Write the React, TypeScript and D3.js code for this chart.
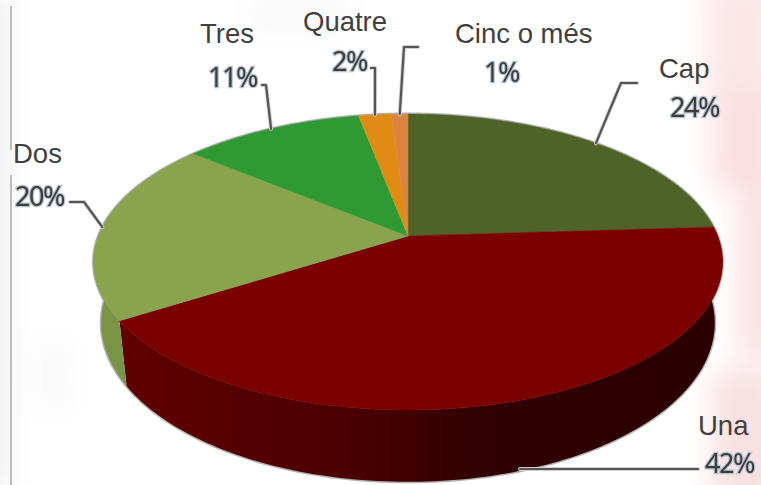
import React from 'react'
import * as d3 from 'd3'

const categories = ['Cap', 'Una', 'Dos', 'Tres', 'Quatre', 'Cinc o més']
const values = [24, 42, 20, 11, 2, 1]
const sliceColors = ['#4f6228', '#7b0000', '#8aa44e', '#2f9a34', '#e08b14', '#d9843f']

const WIDTH = 761
const HEIGHT = 485
const CX = 408
const CY = 236
// perspective: the pie's centre sits above the middle of the ellipse
const PERSP = -0.1757
const topFace = { rx: 309.6, ry: 143.4, dy: 0 }
const bottomFace = { rx: 302, ry: 154, dy: 59 }

const project = (angle: number, face: typeof topFace): [number, number] => {
    const u = Math.sin(angle)
    const v = -Math.cos(angle)
    const w = 1 + PERSP * v
    return [CX + (face.rx * u) / w, CY + face.dy + (face.ry * v) / w]
}

const samples = (a0: number, a1: number) => {
    const n = Math.max(2, Math.ceil(Math.abs(a1 - a0) / 0.02))
    return d3.range(n + 1).map(i => a0 + ((a1 - a0) * i) / n)
}

const line = d3.line()

const arcs = d3.pie<number>().sort(null).value(d => d)(values)

const topPath = (a0: number, a1: number) =>
    line([[CX, CY], ...samples(a0, a1).map(a => project(a, topFace))]) + 'Z'

const wallPath = (a0: number, a1: number) =>
    line([
        ...samples(a0, a1).map(a => project(a, topFace)),
        ...samples(a1, a0).map(a => project(a, bottomFace)),
    ]) + 'Z'

const ring = (face: typeof topFace) => line(samples(0, Math.PI * 2).map(a => project(a, face))) + 'Z'

const midAngle = (i: number) => (arcs[i].startAngle + arcs[i].endAngle) / 2

// elbow points of the leader lines, per category
const leaderBends: [number, number][][] = [
    [[621, 83], [637, 83]],
    [[698, 469]],
    [[84, 202], [70, 202]],
    [[266, 85], [262, 85]],
    [[375, 68], [371, 68]],
    [[404, 47], [418, 47]],
]

const nameLabels: [number, number][] = [[659, 78], [698, 435], [13, 163], [200, 43], [303, 31], [455, 43]]
const pctLabels: [number, number][] = [[670, 117], [705, 473], [15, 206], [208, 87], [332, 71], [484, 82]]

export default function App() {
    return (
        <svg
            width={WIDTH}
            height={HEIGHT}
            viewBox={`0 0 ${WIDTH} ${HEIGHT}`}
            style={{ position: 'absolute', left: 0, top: 0, display: 'block', background: '#fff' }}
        >
            <defs>
                <filter id="wash" x="-50%" y="-50%" width="200%" height="200%">
                    <feGaussianBlur stdDeviation="14" />
                </filter>
                <filter id="soft" x="-10%" y="-10%" width="120%" height="120%">
                    <feGaussianBlur stdDeviation="0.45" />
                </filter>
                <linearGradient id="unaWall" gradientUnits="userSpaceOnUse" x1="125" y1="0" x2="720" y2="0">
                    <stop offset="0" stopColor="#600000" />
                    <stop offset="0.38" stopColor="#4a0000" />
                    <stop offset="0.6" stopColor="#300000" />
                    <stop offset="1" stopColor="#2a0000" />
                </linearGradient>
            </defs>

            {/* washed out background */}
            <g filter="url(#wash)">
                <rect x="705" y="-20" width="80" height="110" fill="#fce6e8" />
                <rect x="712" y="90" width="70" height="100" fill="#fcdfe2" />
                <rect x="738" y="190" width="40" height="170" fill="#f9e0e2" />
                <rect x="712" y="370" width="70" height="140" fill="#f9e0e2" />
                <rect x="-20" y="-10" width="28" height="500" fill="#eeeeee" />
                <rect x="35" y="340" width="40" height="70" fill="#fafafa" />
                <rect x="250" y="0" width="100" height="30" fill="#f8f8f8" />
            </g>

            <g stroke="#bdbdbd" strokeWidth={2}>
                <line x1={11} y1={6} x2={11} y2={150} />
                <line x1={11} y1={175} x2={11} y2={HEIGHT} />
            </g>

            {/* pie body */}
            <g fill="none" stroke="#b4b4b4" strokeWidth={3}>
                <path d={ring(topFace)} />
                <path d={ring(bottomFace)} />
            </g>
            {[1, 2].map(i => (
                <path
                    key={categories[i]}
                    d={wallPath(arcs[i].startAngle, arcs[i].endAngle)}
                    fill={i === 1 ? 'url(#unaWall)' : '#7a9446'}
                />
            ))}
            {arcs.map((d, i) => (
                <path
                    key={categories[i]}
                    d={topPath(d.startAngle, d.endAngle)}
                    fill={sliceColors[i]}
                    stroke={sliceColors[i]}
                    strokeWidth={0.5}
                />
            ))}

            {/* leader lines */}
            <g fill="none" strokeLinejoin="round" strokeLinecap="round" filter="url(#soft)">
                {leaderBends.map((bends, i) => {
                    const isUna = categories[i] === 'Una'
                    const rim = project(midAngle(i), isUna ? bottomFace : topFace)
                    // the Una leader runs flat from the wall to its label
                    const start: [number, number] = isUna ? [rim[0], bends[0][1]] : rim
                    const d = line([start, ...bends]) as string
                    return (
                        <g key={categories[i]}>
                            <path d={d} stroke="#cfcfcf" strokeWidth={4} />
                            <path d={d} stroke="#555" strokeWidth={2.2} />
                        </g>
                    )
                })}
            </g>

            {/* labels */}
            <g fontFamily="'Liberation Sans', Arial, sans-serif" fontSize={27.5} fill="#404040">
                {categories.map((c, i) => (
                    <text key={c} x={nameLabels[i][0]} y={nameLabels[i][1]}>
                        {c}
                    </text>
                ))}
            </g>
            <g fontFamily="'Noto Sans', sans-serif" fontSize={27} fill="#3c3c3c" filter="url(#soft)">
                {values.map((v, i) => (
                    <text
                        key={categories[i]}
                        x={pctLabels[i][0]}
                        y={pctLabels[i][1]}
                        stroke="#b9c4d0"
                        strokeWidth={2.5}
                        paintOrder="stroke"
                        letterSpacing={-1.4}
                    >
                        {v}%
                    </text>
                ))}
            </g>
        </svg>
    )
}
